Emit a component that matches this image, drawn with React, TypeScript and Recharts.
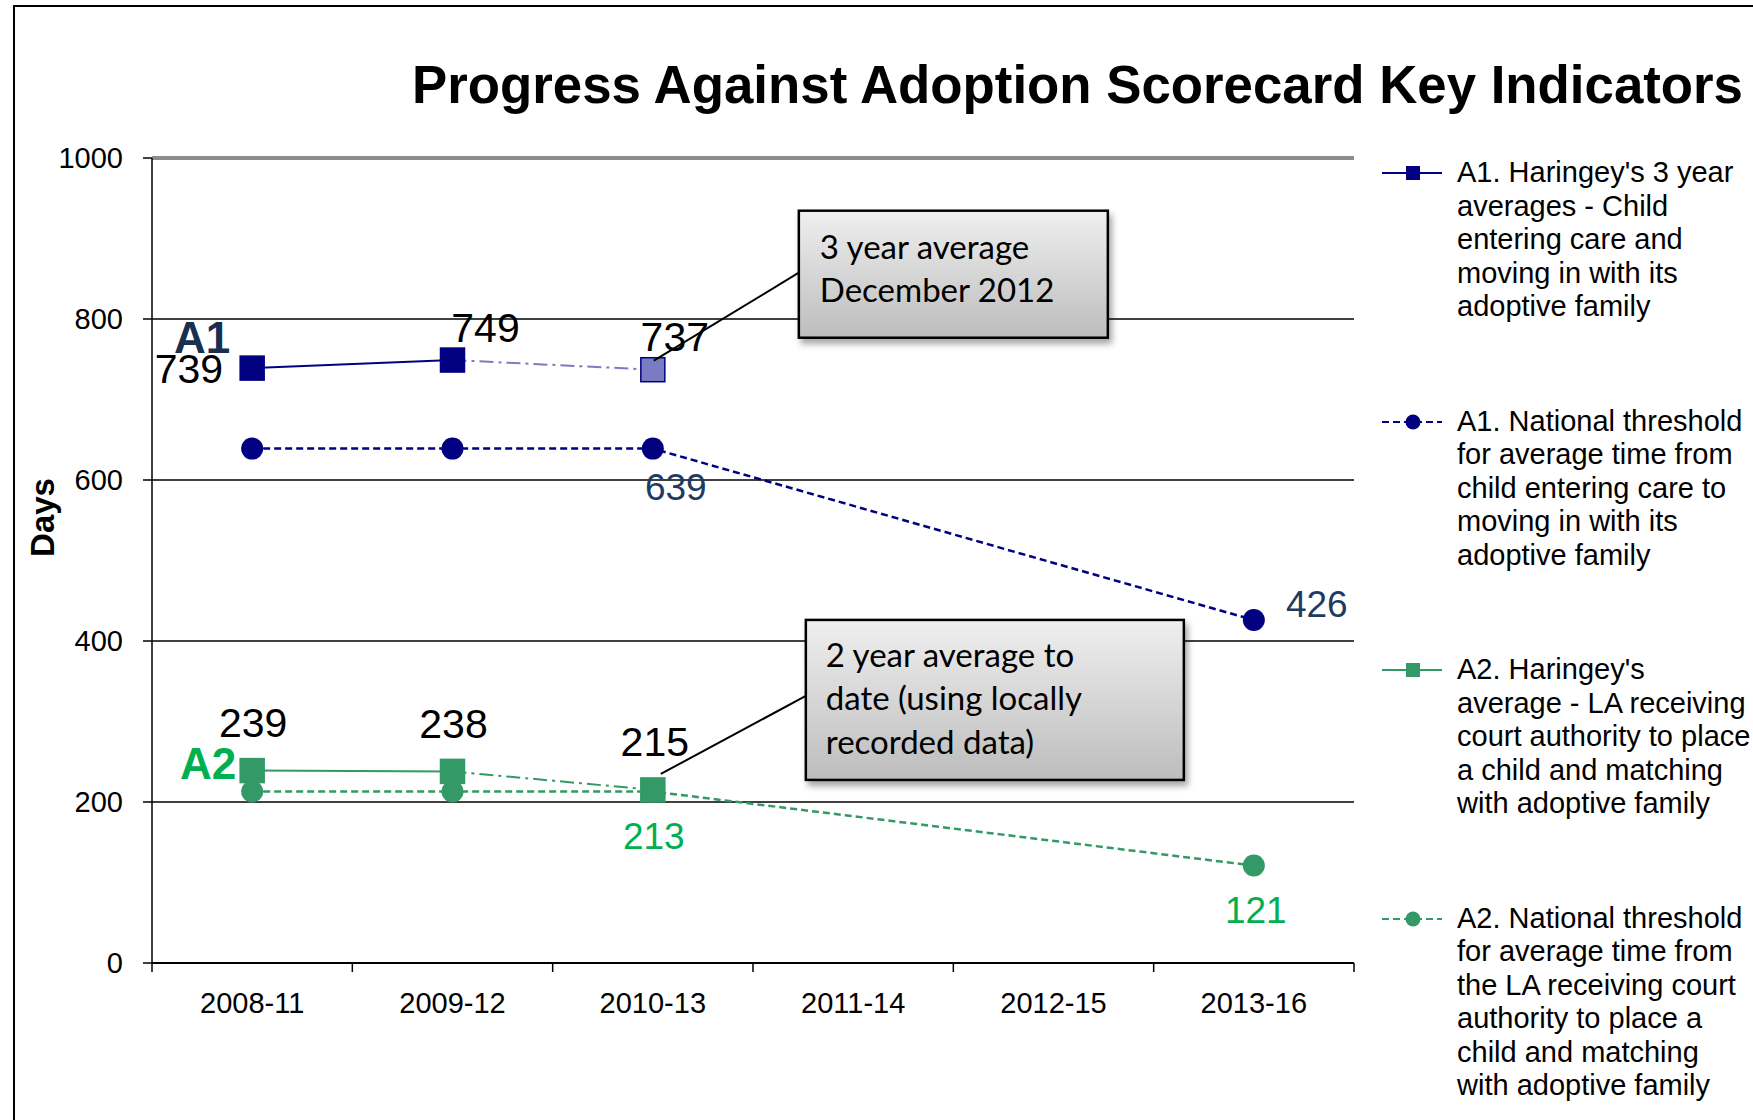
import React from "react";
import {
  CartesianGrid,
  LabelList,
  Legend,
  Line,
  LineChart,
  ReferenceLine,
  XAxis,
  YAxis,
} from "recharts";

const categories = ["2008-11", "2009-12", "2010-13", "2011-14", "2012-15", "2013-16"];
const a1Haringey = [739, 749, 737, null, null, null];
const a1National = [639, 639, 639, null, null, 426];
const a2Haringey = [239, 238, 215, null, null, null];
const a2National = [213, 213, 213, null, null, 121];
const yTicks = [0, 200, 400, 600, 800, 1000];
// index of the last full-year value; later Haringey points are part-year averages
const lastReported = 1;

const NAVY = "#000080";
const NAVY_LIGHT = "#7b7bc4";
const GREEN = "#339966";
const LABEL_GREEN = "#00b050";
const LABEL_BLUE = "#1f3b63";
const ARIAL = "'Liberation Sans', Arial, sans-serif";
const CALLOUT_FONT = "Lato, 'Open Sans', sans-serif";

const data = categories.map((period, i) => ({
  period,
  a1Solid: i <= lastReported ? a1Haringey[i] : null,
  a1Part: i >= lastReported ? a1Haringey[i] : null,
  a1National: a1National[i],
  a2Solid: i <= lastReported ? a2Haringey[i] : null,
  a2Part: i >= lastReported ? a2Haringey[i] : null,
  a2National: a2National[i],
}));

const legendItems = [
  {
    lines: ["A1. Haringey's 3 year", "averages - Child", "entering care and", "moving in with its", "adoptive family"],
    color: NAVY,
    dashed: false,
    shape: "square",
  },
  {
    lines: ["A1. National threshold", "for average time from", "child entering care to", "moving in with its", "adoptive family"],
    color: NAVY,
    dashed: true,
    shape: "circle",
  },
  {
    lines: ["A2. Haringey's", "average - LA receiving", "court authority to place", "a child and matching", "with adoptive family"],
    color: GREEN,
    dashed: false,
    shape: "square",
  },
  {
    lines: ["A2. National threshold", "for average time from", "the LA receiving court", "authority to place a", "child and matching", "with adoptive family"],
    color: GREEN,
    dashed: true,
    shape: "circle",
  },
];

function squareDot(fill: string, stroke: string, fromIndex = 0) {
  return (props: any) => {
    const { cx, cy, index, value } = props;
    if (value == null || cx == null || cy == null || index < fromIndex) return <g key={`sq-${index}`} />;
    return (
      <rect
        key={`sq-${index}`}
        x={cx - 12}
        y={cy - 12}
        width={24}
        height={24}
        fill={fill}
        stroke={stroke}
        strokeWidth={1.5}
      />
    );
  };
}

function circleDot(fill: string) {
  return (props: any) => {
    const { cx, cy, index, value } = props;
    if (value == null || cx == null || cy == null) return <g key={`c-${index}`} />;
    return <circle key={`c-${index}`} cx={cx} cy={cy} r={11} fill={fill} />;
  };
}

type LabelSpec = {
  dx: number;
  dy: number;
  color: string;
  size: number;
  anchor?: "start" | "middle" | "end";
  text?: string;
  bold?: boolean;
};

function Callout({
  x,
  y,
  id,
  box,
  from,
  toY,
  lines,
  textDx,
  textDys,
}: {
  x: number;
  y: number;
  id: string;
  box: { dx: number; dy: number; w: number; h: number };
  from: { dx: number; dy: number };
  toY: number;
  lines: string[];
  textDx: number;
  textDys: number[];
}) {
  return (
    <g>
      <defs>
        <linearGradient id={`${id}-grad`} x1="0" y1="0" x2="0" y2="1">
          <stop offset="0%" stopColor="#efefef" />
          <stop offset="100%" stopColor="#bdbdbd" />
        </linearGradient>
        <filter id={`${id}-shadow`} x="-10%" y="-10%" width="130%" height="140%">
          <feDropShadow dx="3" dy="5" stdDeviation="3" floodColor="#000" floodOpacity="0.35" />
        </filter>
      </defs>
      <line
        x1={x + from.dx}
        y1={y + from.dy}
        x2={x + box.dx}
        y2={y + toY}
        stroke="#000"
        strokeWidth={2}
      />
      <rect
        x={x + box.dx}
        y={y + box.dy}
        width={box.w}
        height={box.h}
        fill={`url(#${id}-grad)`}
        stroke="#000"
        strokeWidth={2.5}
        filter={`url(#${id}-shadow)`}
      />
      {lines.map((t, i) => (
        <text
          key={i}
          x={x + textDx}
          y={y + textDys[i]}
          fontFamily={CALLOUT_FONT}
          fontSize={33}
          fill="#000"
          dominantBaseline="central"
        >
          {t}
        </text>
      ))}
    </g>
  );
}

function makeLabel(specs: Record<number, LabelSpec[]>, callout?: { index: number; render: (x: number, y: number) => React.ReactNode }) {
  return (props: any) => {
    const { x, y, value, index } = props;
    if (value == null || x == null || y == null) return null;
    const list = specs[index] || [];
    return (
      <g>
        {callout && callout.index === index ? callout.render(x, y) : null}
        {list.map((s, i) => (
          <text
            key={i}
            x={x + s.dx}
            y={y + s.dy}
            fill={s.color}
            fontSize={s.size}
            fontFamily={ARIAL}
            fontWeight={s.bold ? "bold" : "normal"}
            textAnchor={s.anchor || "middle"}
            dominantBaseline="central"
          >
            {s.text ?? value}
          </text>
        ))}
      </g>
    );
  };
}

const a1SolidLabel = makeLabel({
  0: [
    { dx: -29, dy: 1, color: "#000", size: 41, anchor: "end" },
    { dx: -22, dy: -31, color: "#17304f", size: 44, anchor: "end", text: "A1", bold: true },
  ],
  1: [{ dx: 33, dy: -32, color: "#000", size: 41 }],
});

const a1PartLabel = makeLabel(
  { 2: [{ dx: 22, dy: -33, color: "#000", size: 41 }] },
  {
    index: 2,
    render: (x, y) => (
      <Callout
        x={x}
        y={y}
        id="c1"
        box={{ dx: 146, dy: -159, w: 309, h: 127 }}
        from={{ dx: 1, dy: -9 }}
        toY={-97}
        lines={["3 year  average", "December 2012"]}
        textDx={167}
        textDys={[-124, -81]}
      />
    ),
  }
);

const a1NationalLabel = makeLabel({
  2: [{ dx: 23, dy: 39, color: LABEL_BLUE, size: 37 }],
  5: [{ dx: 63, dy: -16, color: LABEL_BLUE, size: 37 }],
});

const a2SolidLabel = makeLabel({
  0: [
    { dx: 1, dy: -48, color: "#000", size: 41 },
    { dx: -16, dy: -7, color: LABEL_GREEN, size: 44, anchor: "end", text: "A2", bold: true },
  ],
  1: [{ dx: 1, dy: -47, color: "#000", size: 41 }],
});

const a2PartLabel = makeLabel(
  { 2: [{ dx: 2, dy: -48, color: "#000", size: 41 }] },
  {
    index: 2,
    render: (x, y) => (
      <Callout
        x={x}
        y={y}
        id="c2"
        box={{ dx: 153, dy: -170, w: 378, h: 160 }}
        from={{ dx: 8, dy: -16 }}
        toY={-94}
        lines={["2 year  average to", "date (using locally", "recorded data)"]}
        textDx={173}
        textDys={[-136, -93, -49]}
      />
    ),
  }
);

const a2NationalLabel = makeLabel({
  2: [{ dx: 1, dy: 45, color: LABEL_GREEN, size: 37 }],
  5: [{ dx: 2, dy: 45, color: LABEL_GREEN, size: 37 }],
});

function PeriodTick(props: any) {
  const { x, y, payload, index, visibleTicksCount } = props;
  const half = payload?.offset || 100;
  const last = index === (visibleTicksCount ?? categories.length) - 1;
  return (
    <g>
      <line x1={x - half} y1={y} x2={x - half} y2={y + 9} stroke="#000" strokeWidth={1.5} />
      {last ? <line x1={x + half} y1={y} x2={x + half} y2={y + 9} stroke="#000" strokeWidth={1.5} /> : null}
      <text
        x={x}
        y={y + 40}
        textAnchor="middle"
        dominantBaseline="central"
        fontFamily={ARIAL}
        fontSize={29}
        fill="#000"
      >
        {payload.value}
      </text>
    </g>
  );
}

function LegendBlock() {
  return (
    <div style={{ position: "relative", width: 420, height: 900, fontFamily: ARIAL }}>
      {legendItems.map((item, i) => (
        <div key={i} style={{ position: "absolute", left: 0, top: i * 248.5, width: 420 }}>
          <svg width={75} height={34} style={{ position: "absolute", left: 0, top: 0 }}>
            <line
              x1={0}
              y1={17}
              x2={60}
              y2={17}
              stroke={item.color}
              strokeWidth={2}
              strokeDasharray={item.dashed ? "7 4" : undefined}
            />
            {item.shape === "square" ? (
              <rect x={24} y={10} width={14} height={14} fill={item.color} />
            ) : (
              <circle cx={31} cy={17} r={7.5} fill={item.color} />
            )}
          </svg>
          <div
            style={{
              position: "absolute",
              left: 75,
              top: 0,
              fontSize: 29,
              lineHeight: "33.6px",
              color: "#000",
              whiteSpace: "pre",
            }}
          >
            {item.lines.join("\n")}
          </div>
        </div>
      ))}
    </div>
  );
}

export default function App() {
  return (
    <div
      style={{
        position: "absolute",
        left: 0,
        top: 0,
        width: 1753,
        height: 1120,
        overflow: "hidden",
        background: "#fff",
      }}
    >
      <div
        style={{
          position: "absolute",
          left: 13,
          top: 5,
          right: 0,
          bottom: 0,
          borderTop: "2px solid #000",
          borderLeft: "2px solid #000",
        }}
      />
      <div
        style={{
          position: "absolute",
          left: 412,
          top: 55,
          lineHeight: "60px",
          fontFamily: ARIAL,
          fontWeight: "bold",
          fontSize: 52.8,
          whiteSpace: "nowrap",
          color: "#000",
        }}
      >
        Progress Against Adoption Scorecard Key Indicators
      </div>
      <div style={{ position: "absolute", left: 0, top: 0 }}>
        <LineChart
          width={1753}
          height={1120}
          data={data}
          margin={{ top: 158, right: 399, bottom: 97, left: 92 }}
        >
          <CartesianGrid vertical={false} stroke="#000" strokeWidth={1.5} />
          <XAxis
            dataKey="period"
            scale="band"
            height={60}
            tickSize={0}
            tickMargin={0}
            tickLine={false}
            axisLine={{ stroke: "#000", strokeWidth: 2 }}
            tick={<PeriodTick />}
            interval={0}
          />
          <YAxis
            domain={[0, 1000]}
            ticks={yTicks}
            width={60}
            tickSize={9}
            tickMargin={20}
            axisLine={{ stroke: "#000", strokeWidth: 1.5 }}
            tickLine={{ stroke: "#000", strokeWidth: 1.5 }}
            tick={{ fontSize: 29, fill: "#000", fontFamily: ARIAL }}
            label={{
              content: (p: any) => {
                const vb = p.viewBox || { x: 92, y: 158, width: 60, height: 805 };
                const cx = vb.x + (vb.width ?? 60) - 110;
                const cy = vb.y + vb.height / 2 - 43;
                return (
                  <text
                    x={cx}
                    y={cy}
                    transform={`rotate(-90 ${cx} ${cy})`}
                    textAnchor="middle"
                    dominantBaseline="central"
                    fontFamily={ARIAL}
                    fontWeight="bold"
                    fontSize={33}
                    fill="#000"
                  >
                    Days
                  </text>
                );
              },
            }}
          />
          <YAxis
            yAxisId="frame"
            orientation="right"
            domain={[0, 1000]}
            width={0}
            tick={false}
            tickLine={false}
            axisLine={{ stroke: "#8c8c8c", strokeWidth: 3 }}
          />
          <ReferenceLine y={1000} stroke="#8c8c8c" strokeWidth={4} />
          <Legend
            layout="vertical"
            align="center"
            verticalAlign="middle"
            width={420}
            wrapperStyle={{ left: 1382, top: 156, width: 420 }}
            content={() => <LegendBlock />}
          />

          <Line
            dataKey="a1National"
            stroke={NAVY}
            strokeWidth={2.5}
            strokeDasharray="7 4"
            connectNulls
            dot={circleDot(NAVY)}
            activeDot={false}
            isAnimationActive={false}
          >
            <LabelList dataKey="a1National" content={a1NationalLabel} />
          </Line>
          <Line
            dataKey="a1Part"
            stroke={NAVY_LIGHT}
            strokeWidth={2}
            strokeDasharray="14 5 3 5"
            dot={squareDot(NAVY_LIGHT, NAVY, lastReported + 1)}
            activeDot={false}
            isAnimationActive={false}
          >
            <LabelList dataKey="a1Part" content={a1PartLabel} />
          </Line>
          <Line
            dataKey="a1Solid"
            stroke={NAVY}
            strokeWidth={2}
            dot={squareDot(NAVY, NAVY)}
            activeDot={false}
            isAnimationActive={false}
          >
            <LabelList dataKey="a1Solid" content={a1SolidLabel} />
          </Line>
          <Line
            dataKey="a2National"
            stroke={GREEN}
            strokeWidth={2.5}
            strokeDasharray="7 4"
            connectNulls
            dot={circleDot(GREEN)}
            activeDot={false}
            isAnimationActive={false}
          >
            <LabelList dataKey="a2National" content={a2NationalLabel} />
          </Line>
          <Line
            dataKey="a2Part"
            stroke={GREEN}
            strokeWidth={2}
            strokeDasharray="14 5 3 5"
            dot={squareDot(GREEN, GREEN, lastReported + 1)}
            activeDot={false}
            isAnimationActive={false}
          >
            <LabelList dataKey="a2Part" content={a2PartLabel} />
          </Line>
          <Line
            dataKey="a2Solid"
            stroke={GREEN}
            strokeWidth={2}
            dot={squareDot(GREEN, GREEN)}
            activeDot={false}
            isAnimationActive={false}
          >
            <LabelList dataKey="a2Solid" content={a2SolidLabel} />
          </Line>
        </LineChart>
      </div>
    </div>
  );
}
